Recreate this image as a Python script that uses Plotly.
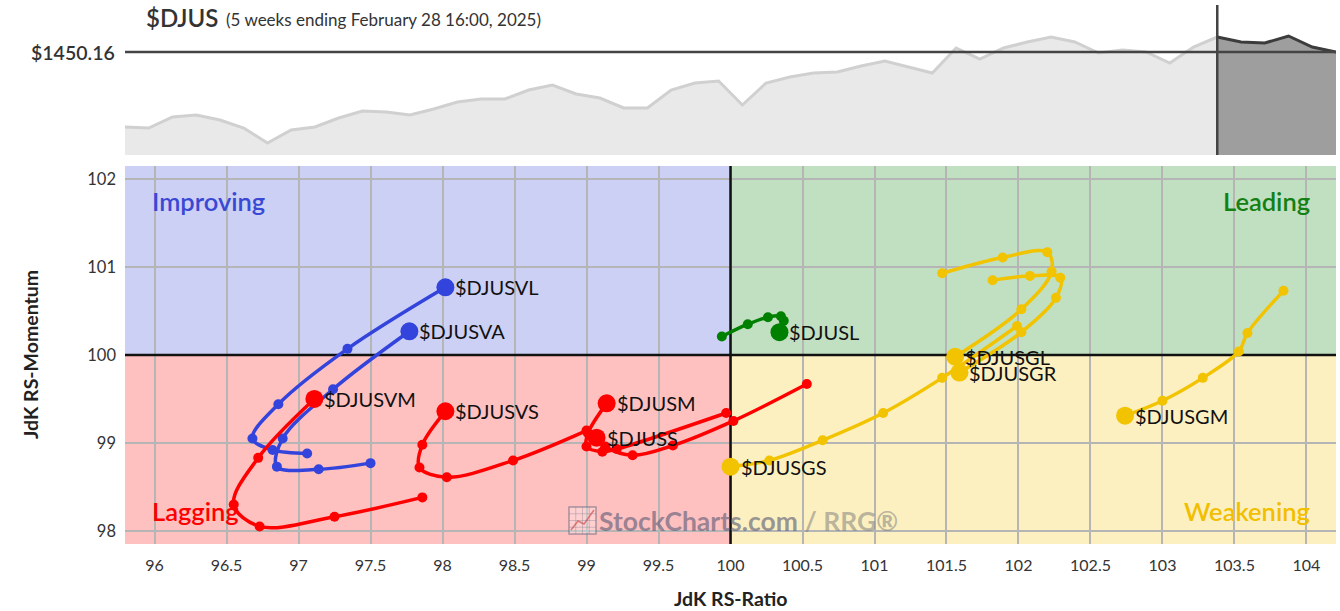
import plotly.graph_objects as go
import pandas as pd

# ---------------- data ----------------
price_dates = pd.date_range(end="2025-02-28", periods=52, freq="W-FRI")
price_values = [1285.2, 1283.0, 1307.2, 1311.6, 1300.6, 1283.0, 1250.0, 1278.6, 1285.2, 1305.0,
                1320.4, 1318.2, 1311.6, 1324.8, 1340.2, 1346.8, 1346.8, 1366.6, 1377.6, 1357.8,
                1349.0, 1327.0, 1327.0, 1366.6, 1382.0, 1386.4, 1333.6, 1382.0, 1395.2, 1404.0,
                1406.2, 1419.4, 1430.4, 1417.2, 1404.0, 1459.0, 1434.8, 1459.0, 1472.2, 1483.2,
                1472.2, 1448.0, 1454.6, 1450.2, 1426.0, 1461.2, 1483.2, 1472.2, 1470.0, 1485.4,
                1461.2, 1450.16]
tail_weeks = 5
last_price = 1450.16

djusvl_ratio = [97.06, 96.82, 96.68, 96.86, 97.34, 98.02]
djusvl_mom = [98.88, 98.92, 99.05, 99.44, 100.07, 100.77]
djusva_ratio = [97.50, 97.14, 96.85, 96.89, 97.24, 97.77]
djusva_mom = [98.77, 98.70, 98.73, 99.05, 99.61, 100.27]
djusl_ratio = [99.94, 100.12, 100.26, 100.35, 100.37, 100.34]
djusl_mom = [100.21, 100.35, 100.43, 100.44, 100.39, 100.26]
djusgl_ratio = [101.47, 101.89, 102.20, 102.23, 102.02, 101.56]
djusgl_mom = [100.93, 101.11, 101.17, 100.95, 100.52, 99.98]
djusgr_ratio = [101.82, 102.08, 102.29, 102.26, 102.02, 101.59]
djusgr_mom = [100.85, 100.90, 100.88, 100.65, 100.26, 99.80]
djusgs_ratio = [101.99, 101.47, 101.06, 100.64, 100.27, 100.00]
djusgs_mom = [100.33, 99.74, 99.34, 99.03, 98.80, 98.73]
djusgm_ratio = [103.84, 103.59, 103.53, 103.28, 103.00, 102.74]
djusgm_mom = [100.73, 100.25, 100.04, 99.74, 99.48, 99.31]
djusvm_ratio = [97.86, 97.25, 96.73, 96.55, 96.72, 97.11]
djusvm_mom = [98.38, 98.16, 98.05, 98.30, 98.83, 99.50]
djusvs_ratio = [99.00, 98.49, 98.03, 97.84, 97.86, 98.02]
djusvs_mom = [99.14, 98.80, 98.61, 98.72, 98.98, 99.36]
djusm_ratio = [99.97, 99.21, 99.11, 99.00, 99.01, 99.14]
djusm_mom = [99.34, 98.93, 98.90, 98.96, 99.11, 99.45]
djuss_ratio = [100.53, 100.02, 99.60, 99.32, 99.13, 99.07]
djuss_mom = [99.67, 99.25, 98.97, 98.86, 98.96, 99.06]

x_ticks = [96, 96.5, 97, 97.5, 98, 98.5, 99, 99.5, 100, 100.5, 101, 101.5, 102, 102.5, 103, 103.5, 104]
x_tick_labels = ["96", "96.5", "97", "97.5", "98", "98.5", "99", "99.5", "100", "100.5",
                 "101", "101.5", "102", "102.5", "103", "103.5", "104"]
y_ticks = [98, 99, 100, 101, 102]
y_tick_labels = ["98", "99", "100", "101", "102"]
quadrant_names = ["Improving", "Leading", "Lagging", "Weakening"]
center_value = 100

# ---------------- styling ----------------
W, H = 1340, 611
ML, MR, MT, MB = 125, 4, 5, 67
PW, PH = W - ML - MR, H - MT - MB
FONT = "Lato, 'Open Sans', sans-serif"

BLUE = "#3344dd"
RED = "#ff0000"
GREEN = "#008000"
GOLD = "#f2c300"

series = [
    ("$DJUSVL", djusvl_ratio, djusvl_mom, BLUE),
    ("$DJUSVA", djusva_ratio, djusva_mom, BLUE),
    ("$DJUSVM", djusvm_ratio, djusvm_mom, RED),
    ("$DJUSVS", djusvs_ratio, djusvs_mom, RED),
    ("$DJUSM", djusm_ratio, djusm_mom, RED),
    ("$DJUSS", djuss_ratio, djuss_mom, RED),
    ("$DJUSL", djusl_ratio, djusl_mom, GREEN),
    ("$DJUSGS", djusgs_ratio, djusgs_mom, GOLD),
    ("$DJUSGM", djusgm_ratio, djusgm_mom, GOLD),
    ("$DJUSGR", djusgr_ratio, djusgr_mom, GOLD),
    ("$DJUSGL", djusgl_ratio, djusgl_mom, GOLD),
]


def px_x(px):
    return (px - ML) / PW


def py_y(py):
    return (H - MB - py) / PH


top_dom = [py_y(155), 1.0]
rrg_dom = [0.0, py_y(166)]
xr = [95.795, 104.205]
yr = [97.85, 102.15]

fig = go.Figure()

# ---------- price panel ----------
split = len(price_values) - 1 - tail_weeks
fig.add_trace(go.Scatter(
    x=price_dates[:split + 1], y=price_values[:split + 1], mode="lines",
    fill="tozeroy", fillcolor="#e9e9e9", line=dict(color="#d0d0d0", width=3),
    xaxis="x", yaxis="y", hoverinfo="skip", showlegend=False))
fig.add_trace(go.Scatter(
    x=price_dates[split:], y=price_values[split:], mode="lines",
    fill="tozeroy", fillcolor="#9e9e9e", line=dict(color="#3c3c3c", width=3),
    xaxis="x", yaxis="y", hoverinfo="skip", showlegend=False))

# ---------- center cross (below tails) ----------
fig.add_trace(go.Scatter(x=[center_value, center_value], y=yr, mode="lines",
                         line=dict(color="#111111", width=2.5), xaxis="x2", yaxis="y2",
                         hoverinfo="skip", showlegend=False))
fig.add_trace(go.Scatter(x=xr, y=[center_value, center_value], mode="lines",
                         line=dict(color="#111111", width=2.5), xaxis="x2", yaxis="y2",
                         hoverinfo="skip", showlegend=False))

# ---------- RRG tails ----------
for name, xs, ys, col in series:
    fig.add_trace(go.Scatter(
        x=xs, y=ys, mode="lines+markers",
        line=dict(color=col, width=3.5, shape="spline", smoothing=1.0),
        marker=dict(color=col, size=10),
        xaxis="x2", yaxis="y2", hoverinfo="skip", showlegend=False))
for name, xs, ys, col in series:
    fig.add_trace(go.Scatter(
        x=[xs[-1]], y=[ys[-1]], mode="markers",
        marker=dict(color=col, size=18),
        xaxis="x2", yaxis="y2", hoverinfo="skip", showlegend=False))

# ---------- shapes ----------
shapes = [
    dict(type="rect", xref="x2", yref="y2", x0=xr[0], x1=center_value, y0=center_value, y1=yr[1],
         fillcolor="#ccd0f5", line=dict(width=0), layer="below"),
    dict(type="rect", xref="x2", yref="y2", x0=center_value, x1=xr[1], y0=center_value, y1=yr[1],
         fillcolor="#c1e0c1", line=dict(width=0), layer="below"),
    dict(type="rect", xref="x2", yref="y2", x0=xr[0], x1=center_value, y0=yr[0], y1=center_value,
         fillcolor="#ffc0c0", line=dict(width=0), layer="below"),
    dict(type="rect", xref="x2", yref="y2", x0=center_value, x1=xr[1], y0=yr[0], y1=center_value,
         fillcolor="#fcf0c0", line=dict(width=0), layer="below"),
    dict(type="line", xref="paper", yref="y", x0=0, x1=1, y0=last_price, y1=last_price,
         line=dict(color="#444444", width=2.5), layer="above"),
    dict(type="line", xref="x", yref="paper", x0=price_dates[split], x1=price_dates[split],
         y0=top_dom[0], y1=1, line=dict(color="#444444", width=2.5), layer="above"),
]
# watermark icon (small chart glyph)
ix0, ix1, iy0, iy1 = 569, 596, 507, 534
shapes.append(dict(type="rect", xref="paper", yref="paper", x0=px_x(ix0), x1=px_x(ix1),
                   y0=py_y(iy1), y1=py_y(iy0), line=dict(color="rgba(110,110,130,0.6)", width=1.5),
                   fillcolor="rgba(255,255,255,0.25)", layer="above"))
for k in range(1, 4):
    gx = ix0 + k * (ix1 - ix0) / 4
    gy = iy0 + k * (iy1 - iy0) / 4
    shapes.append(dict(type="line", xref="paper", yref="paper", x0=px_x(gx), x1=px_x(gx),
                       y0=py_y(iy1), y1=py_y(iy0), line=dict(color="rgba(120,120,140,0.35)", width=1),
                       layer="above"))
    shapes.append(dict(type="line", xref="paper", yref="paper", x0=px_x(ix0), x1=px_x(ix1),
                       y0=py_y(gy), y1=py_y(gy), line=dict(color="rgba(120,120,140,0.35)", width=1),
                       layer="above"))
shapes.append(dict(type="path", xref="paper", yref="paper",
                   path="M %f %f L %f %f L %f %f L %f %f" % (
                       px_x(571), py_y(530), px_x(578), py_y(521), px_x(584), py_y(524), px_x(594), py_y(510)),
                   line=dict(color="rgba(200,60,60,0.6)", width=1.5), layer="above"))

ann = []
ann.append(dict(text="$DJUS", xref="paper", yref="paper", x=px_x(144), y=py_y(18),
                xanchor="left", yanchor="middle", showarrow=False,
                font=dict(family=FONT, size=24, color="#333333", weight=600)))
ann.append(dict(text="(5 weeks ending February 28 16:00, 2025)", xref="paper", yref="paper",
                x=px_x(224), y=py_y(19), xanchor="left", yanchor="middle", showarrow=False,
                font=dict(family=FONT, size=17, color="#333333")))
ann.append(dict(text="$%.2f" % last_price, xref="paper", yref="y", x=px_x(117), y=last_price,
                xanchor="right", yanchor="middle", showarrow=False,
                font=dict(family=FONT, size=19.5, color="#333333", weight=600)))

q_pos = [(150, 201, "left", "#3a48d4"), (1312, 201, "right", "#148014"),
         (150, 511, "left", "#ff0000"), (1312, 511, "right", "#f2be00")]
for qn, (qx, qy, qa, qc) in zip(quadrant_names, q_pos):
    ann.append(dict(text=qn, xref="paper", yref="paper", x=px_x(qx), y=py_y(qy),
                    xanchor=qa, yanchor="middle", showarrow=False,
                    font=dict(family=FONT, size=25.5, color=qc, weight=600)))

# series labels, right of the end marker
for name, xs, ys, col in series:
    ann.append(dict(text=name, xref="x2", yref="y2", x=xs[-1], y=ys[-1],
                    xanchor="left", yanchor="middle", xshift=8, yshift=0, showarrow=False,
                    font=dict(family=FONT, size=20, color="#111111")))

ann.append(dict(text="<span style='color:rgba(95,95,120,0.65)'>StockCharts.com</span>"
                     "<span style='color:rgba(120,120,120,0.5)'> / RRG®</span>",
                xref="paper", yref="paper", x=px_x(597), y=py_y(521),
                xanchor="left", yanchor="middle", showarrow=False,
                font=dict(family=FONT, size=26.5, weight=700)))

ann.append(dict(text="JdK RS-Ratio", xref="paper", yref="paper", x=px_x(731), y=py_y(598),
                xanchor="center", yanchor="middle", showarrow=False,
                font=dict(family=FONT, size=19.5, color="#222222", weight=700)))
ann.append(dict(text="JdK RS-Momentum", xref="paper", yref="paper", x=px_x(30), y=py_y(355),
                xanchor="center", yanchor="middle", showarrow=False, textangle=-90,
                font=dict(family=FONT, size=19.5, color="#222222", weight=700)))

fig.update_layout(
    width=W, height=H,
    margin=dict(l=ML, r=MR, t=MT, b=MB),
    paper_bgcolor="white", plot_bgcolor="white",
    font=dict(family=FONT, color="#333333"),
    showlegend=False,
    shapes=shapes, annotations=ann,
    xaxis=dict(domain=[0, 1], anchor="y", range=[price_dates[0], price_dates[-1]],
               visible=False, fixedrange=True),
    yaxis=dict(domain=top_dom, anchor="x", range=[1223.6, 1553.6], visible=False, fixedrange=True),
    xaxis2=dict(domain=[0, 1], anchor="y2", range=xr, tickmode="array",
                tickvals=x_ticks, ticktext=x_tick_labels, showgrid=True,
                gridcolor="#b5b5b5", gridwidth=1.5, zeroline=False, showline=False,
                ticks="", ticklabelstandoff=10,
                tickfont=dict(family=FONT, size=16, color="#333333")),
    yaxis2=dict(domain=rrg_dom, anchor="x2", range=yr, tickmode="array",
                tickvals=y_ticks, ticktext=y_tick_labels, showgrid=True,
                gridcolor="#b5b5b5", gridwidth=1.5, zeroline=False, showline=False,
                ticks="", ticklabelstandoff=8,
                tickfont=dict(family=FONT, size=16.5, color="#333333")),
)

fig.write_html("out.html", config={"displayModeBar": False},
               post_script="document.body.style.margin='0';document.body.style.overflow='hidden';")
